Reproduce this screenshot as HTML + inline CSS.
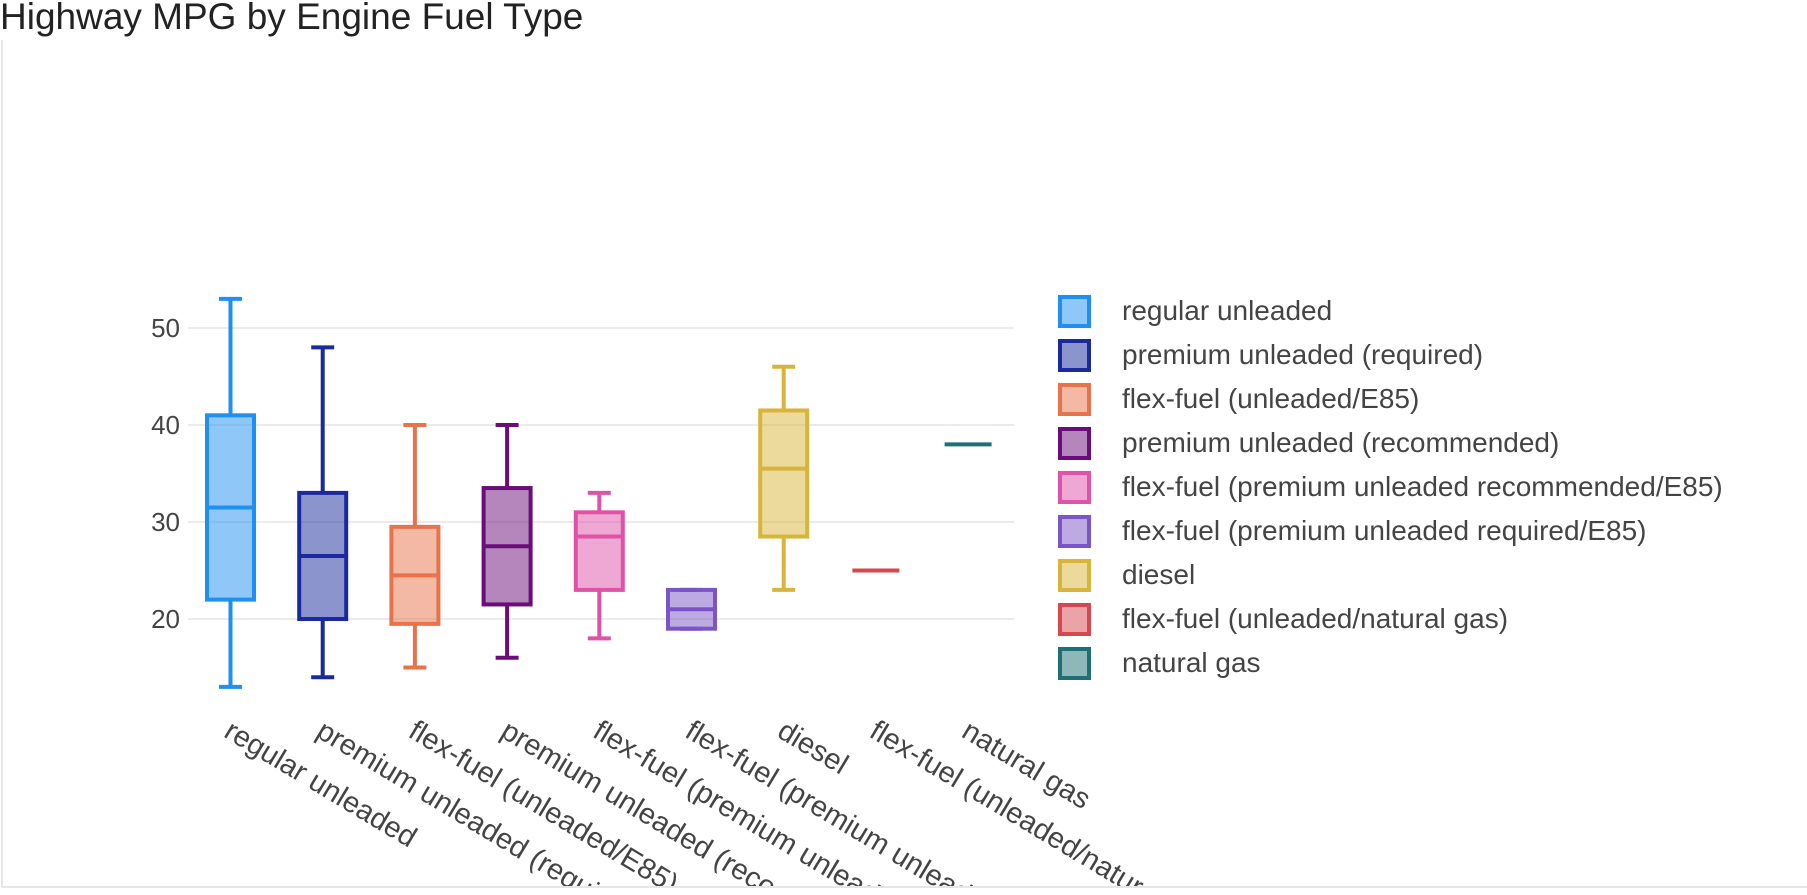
<!DOCTYPE html>
<html><head><meta charset="utf-8"><style>
body{margin:0;background:#fff;font-family:"Liberation Sans",sans-serif;overflow:hidden;}
#wrap{position:relative;width:1807px;height:895px;overflow:hidden;}
</style></head><body>
<div id="wrap">
<svg id="chart" width="1807" height="895" viewBox="0 0 1807 895" overflow="hidden" xmlns="http://www.w3.org/2000/svg">
<defs><clipPath id="clipall"><rect x="0" y="0" width="1807" height="886"/></clipPath></defs>
<line x1="2" y1="40" x2="2" y2="887" stroke="#e6e6e6" stroke-width="2"/>
<line x1="2" y1="887" x2="1807" y2="887" stroke="#e6e6e6" stroke-width="2"/>
<text x="0" y="29" font-size="37" fill="#222">Highway MPG by Engine Fuel Type</text>
<g id="grid"></g><g id="boxes"></g><g id="xlabels" clip-path="url(#clipall)"></g><g id="legend"></g>
</svg>
</div>
<script>
const categories=["regular unleaded","premium unleaded (required)","flex-fuel (unleaded/E85)","premium unleaded (recommended)","flex-fuel (premium unleaded recommended/E85)","flex-fuel (premium unleaded required/E85)","diesel","flex-fuel (unleaded/natural gas)","natural gas"];
const mins=[13,14,15,16,18,19,23,25,38];
const q1s=[22,20,19.5,21.5,23,19,28.5,25,38];
const medians=[31.5,26.5,24.5,27.5,28.5,21,35.5,25,38];
const q3s=[41,33,29.5,33.5,31,23,41.5,25,38];
const maxs=[53,48,40,40,33,23,46,25,38];
const yTicks=[20,30,40,50];
const colors=["#1f8ff2","#1a2a9c","#e8734a","#6a0d7a","#e052a8","#7b55c7","#d9b43a","#d6484e","#1e7075"];
const NS="http://www.w3.org/2000/svg";
const plotL=188,plotR=1014;
function y(v){return 619-(v-20)*9.7;}
function x(i){return 230.5+i*92.2;}
function mk(tag,attrs,parent){const e=document.createElementNS(NS,tag);for(const k in attrs)e.setAttribute(k,attrs[k]);parent.appendChild(e);return e;}
const grid=document.getElementById('grid');
yTicks.forEach(t=>{
 const l=mk('line',{x1:plotL,x2:plotR,y1:y(t),y2:y(t),stroke:'#ebebeb','stroke-width':2},grid);
 
 
 const tx=mk('text',{x:180,y:y(t)+9,'text-anchor':'end','font-size':26,fill:'#444'},grid);
 tx.textContent=t;
 
 
});
const boxes=document.getElementById('boxes');
const bw=47,cw=23;
categories.forEach((c,i)=>{
 const g=mk('g',{},boxes);
 
 
 const cx=x(i),col=colors[i];
 if(maxs[i]!==mins[i]||q3s[i]!==q1s[i]){
 mk('line',{x1:cx,x2:cx,y1:y(maxs[i]),y2:y(q3s[i]),stroke:col,'stroke-width':4},g);
 mk('line',{x1:cx,x2:cx,y1:y(q1s[i]),y2:y(mins[i]),stroke:col,'stroke-width':4},g);
 mk('line',{x1:cx-cw/2,x2:cx+cw/2,y1:y(maxs[i]),y2:y(maxs[i]),stroke:col,'stroke-width':4},g);
 mk('line',{x1:cx-cw/2,x2:cx+cw/2,y1:y(mins[i]),y2:y(mins[i]),stroke:col,'stroke-width':4},g);
 mk('rect',{x:cx-bw/2,y:y(q3s[i]),width:bw,height:y(q1s[i])-y(q3s[i]),fill:col,'fill-opacity':0.5,stroke:col,'stroke-width':4},g);
 }
 mk('line',{x1:cx-bw/2,x2:cx+bw/2,y1:y(medians[i]),y2:y(medians[i]),stroke:col,'stroke-width':4},g);
});
const xl=document.getElementById('xlabels');
categories.forEach((c,i)=>{
 const t=mk('text',{x:0,y:0,'font-size':29,fill:'#444',transform:`translate(${x(i)-8},${736}) rotate(31)`},xl);
 t.textContent=c;
 
 
});
const lg=document.getElementById('legend');
categories.forEach((c,i)=>{
 const g=mk('g',{},lg);
 
 
 const yy=311+i*44;
 mk('rect',{x:1060,y:yy-14,width:29,height:29,fill:colors[i],'fill-opacity':0.5,stroke:colors[i],'stroke-width':4},g);
 const t=mk('text',{x:1122,y:yy+9,'font-size':28,fill:'#444'},g);
 t.textContent=c;
});
</script>
</body></html>
